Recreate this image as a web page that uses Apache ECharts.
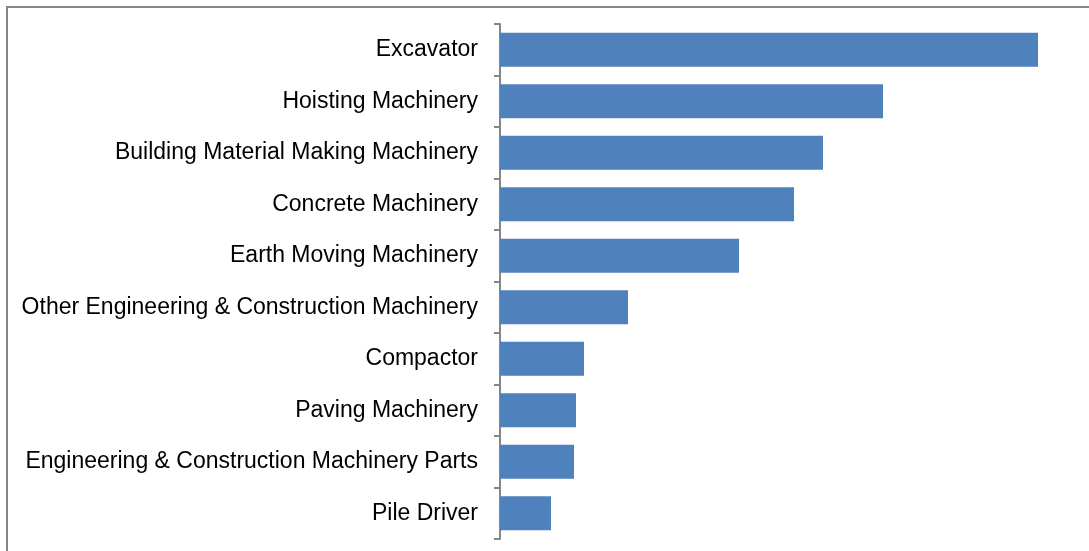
<!DOCTYPE html>
<html>
<head>
<meta charset="utf-8">
<style>
html,body{margin:0;padding:0;background:#fff;}
#chart{width:1089px;height:551px;}
</style>
<script src="https://cdn.jsdelivr.net/npm/echarts@6/dist/echarts.min.js"></script>
</head>
<body>
<div id="chart"></div>
<script>
const categories = [
  "Excavator",
  "Hoisting Machinery",
  "Building Material Making Machinery",
  "Concrete Machinery",
  "Earth Moving Machinery",
  "Other Engineering & Construction Machinery",
  "Compactor",
  "Paving Machinery",
  "Engineering & Construction Machinery Parts",
  "Pile Driver"
];
const values = [53.8, 38.3, 32.3, 29.4, 23.9, 12.8, 8.4, 7.6, 7.4, 5.1];

const chart = echarts.init(document.getElementById('chart'), null, {renderer: 'canvas'});
chart.setOption({
  animation: false,
  backgroundColor: '#ffffff',
  graphic: [{
    type: 'rect',
    shape: {x: 7, y: 7, width: 1200, height: 700},
    style: {fill: 'none', stroke: '#868686', lineWidth: 2},
    silent: true
  }],
  grid: {left: 500, right: 29, top: 24, bottom: 12, containLabel: false},
  xAxis: {
    type: 'value',
    min: 0,
    max: 56,
    show: false
  },
  yAxis: {
    type: 'category',
    data: categories,
    inverse: true,
    axisLine: {show: true, lineStyle: {color: '#868686', width: 2}},
    axisTick: {show: true, inside: false, length: 6, lineStyle: {color: '#868686', width: 2}},
    axisLabel: {
      margin: 22,
      color: '#000000',
      fontSize: 23,
      fontFamily: '"Liberation Sans", Arial, sans-serif'
    },
    splitLine: {show: false}
  },
  series: [{
    type: 'bar',
    data: values,
    barWidth: '66%',
    itemStyle: {color: '#4f81bd'},
    silent: true
  }]
});
</script>
</body>
</html>
